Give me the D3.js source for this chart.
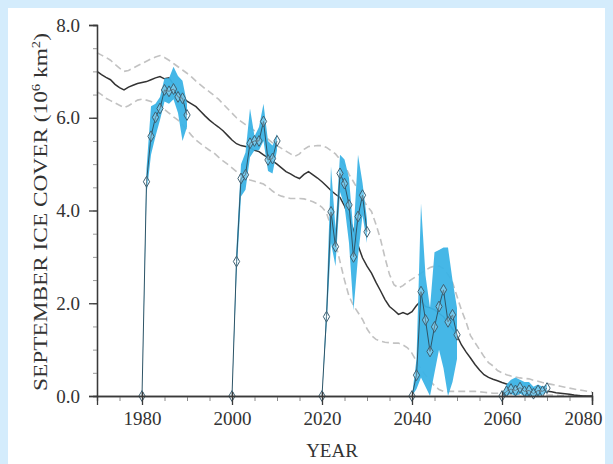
<!DOCTYPE html>
<html>
<head>
<meta charset="utf-8">
<script src="https://cdn.jsdelivr.net/npm/d3@7"></script>
<style>
  html, body { margin: 0; padding: 0; background: #d4ecfc; }
  svg { display: block; }
</style>
</head>
<body>
<svg id="chart" width="613" height="464"></svg>
<script>
// ---------- DATA ----------
const startYear = 1970;
const endYear = 2080;
const years = d3.range(startYear, endYear + 1);

const meanCover = [
  7.00, 6.93, 6.87, 6.82, 6.72, 6.65, 6.60, 6.66, 6.70, 6.74,
  6.76, 6.78, 6.82, 6.86, 6.89, 6.84, 6.86, 6.72, 6.56, 6.45,
  6.36, 6.30, 6.24, 6.14, 6.04, 5.95, 5.87, 5.80, 5.72, 5.62,
  5.52, 5.44, 5.40, 5.38, 5.35, 5.30, 5.27, 5.20, 5.14, 5.07,
  5.00, 4.92, 4.84, 4.79, 4.73, 4.69, 4.78, 4.84, 4.77, 4.70,
  4.62, 4.53, 4.43, 4.35, 4.28, 4.10, 3.85, 3.58, 3.25, 2.98,
  2.80, 2.65, 2.45, 2.27, 2.08, 1.93, 1.85, 1.76, 1.80, 1.76,
  1.82, 1.95, 2.05, 1.93, 1.90, 1.86, 1.78, 1.71, 1.58, 1.45,
  1.30, 1.10, 0.95, 0.82, 0.68, 0.56, 0.46, 0.40, 0.36, 0.33,
  0.29, 0.26, 0.23, 0.20, 0.18, 0.15, 0.13, 0.12, 0.11, 0.11,
  0.10, 0.09, 0.07, 0.06, 0.05, 0.04, 0.02, 0.01, 0.00, 0.00,
  0.00
];

const upperCover = [
  7.40, 7.35, 7.30, 7.24, 7.15, 7.07, 7.00, 7.02, 7.07, 7.12,
  7.17, 7.22, 7.27, 7.31, 7.34, 7.30, 7.24, 7.17, 7.10, 7.03,
  6.96, 6.88, 6.79, 6.71, 6.63, 6.56, 6.48, 6.40, 6.30, 6.20,
  6.10, 6.00, 5.92, 5.85, 5.78, 5.72, 5.67, 5.62, 5.54, 5.46,
  5.40, 5.34, 5.28, 5.22, 5.17, 5.22, 5.32, 5.38, 5.39, 5.40,
  5.40, 5.36, 5.29, 5.22, 5.10, 4.98, 4.78, 4.62, 4.45, 4.25,
  4.10, 3.98, 3.70, 3.38, 2.98, 2.62, 2.40, 2.33, 2.38, 2.46,
  2.52, 2.58, 2.65, 2.71, 2.77, 2.80, 2.80, 2.75, 2.62, 2.45,
  2.15, 1.85, 1.60, 1.30, 1.15, 1.00, 0.85, 0.72, 0.65, 0.55,
  0.50, 0.46, 0.43, 0.41, 0.39, 0.38, 0.37, 0.34, 0.32, 0.29,
  0.27, 0.25, 0.23, 0.21, 0.19, 0.17, 0.15, 0.13, 0.12, 0.10,
  0.09
];

const lowerCover = [
  6.56, 6.50, 6.42, 6.37, 6.32, 6.27, 6.22, 6.26, 6.32, 6.38,
  6.40, 6.38, 6.35, 6.30, 6.25, 6.18, 6.10, 6.02, 5.95, 5.85,
  5.74, 5.62, 5.52, 5.44, 5.37, 5.30, 5.24, 5.15, 5.07, 5.00,
  4.92, 4.84, 4.76, 4.70, 4.66, 4.63, 4.60, 4.57, 4.50, 4.42,
  4.35, 4.31, 4.28, 4.26, 4.26, 4.26, 4.25, 4.22, 4.19, 4.14,
  4.07, 3.95, 3.65, 3.30, 2.90, 2.50, 2.15, 1.95, 1.80, 1.65,
  1.45, 1.30, 1.22, 1.18, 1.16, 1.15, 1.14, 1.14, 1.10, 1.04,
  0.92, 0.75, 0.58, 0.45, 0.33, 0.22, 0.14, 0.10, 0.10, 0.10,
  0.10, 0.10, 0.10, 0.10, 0.10, 0.09, 0.08, 0.07, 0.06, 0.06,
  0.05, 0.05, 0.04, 0.04, 0.04, 0.03, 0.03, 0.03, 0.02, 0.02,
  0.02, 0.02, 0.02, 0.01, 0.01, 0.01, 0.01, 0.01, 0.00, 0.00,
  0.00
];

// Model runs: each starts at its start year from 0, then 10 yearly values
const runStarts = [1980, 2000, 2020, 2040, 2060];
const runValues = [
  [0, 4.62, 5.60, 6.01, 6.20, 6.60, 6.57, 6.62, 6.45, 6.42, 6.06],
  [0, 2.90, 4.69, 4.77, 5.45, 5.50, 5.50, 5.92, 5.09, 5.12, 5.50],
  [0, 1.71, 3.97, 3.22, 4.80, 4.58, 4.12, 3.00, 3.87, 4.33, 3.54],
  [0, 0.45, 2.25, 1.64, 0.96, 1.49, 1.93, 2.29, 1.60, 1.75, 1.32],
  [0, 0.10, 0.15, 0.12, 0.18, 0.10, 0.12, 0.05, 0.12, 0.10, 0.17]
];
const runLow = [
  [0, 4.35, 5.20, 5.60, 5.95, 6.35, 6.30, 6.40, 6.10, 5.50, 5.80],
  [0, 2.60, 4.30, 4.45, 5.15, 5.30, 5.30, 5.50, 4.85, 4.80, 5.30],
  [0, 1.50, 3.30, 2.80, 4.40, 4.10, 3.30, 1.85, 3.00, 3.90, 3.30],
  [0, 0.15, 0.40, 0.20, 0.00, 0.50, 1.00, 0.60, 0.00, 0.30, 0.80],
  [0, 0.00, 0.05, 0.00, 0.05, 0.00, 0.00, 0.00, 0.00, 0.02, 0.10]
];
const runHigh = [
  [0, 4.90, 6.25, 6.30, 6.45, 6.85, 6.85, 7.10, 6.90, 6.80, 6.30],
  [0, 3.20, 5.00, 5.25, 6.20, 5.60, 5.80, 6.30, 5.50, 5.40, 5.65],
  [0, 2.00, 4.95, 3.60, 5.20, 5.10, 4.70, 3.50, 5.20, 4.60, 3.80],
  [0, 0.80, 4.15, 2.60, 1.90, 3.10, 3.15, 3.20, 3.20, 2.50, 1.90],
  [0, 0.25, 0.35, 0.40, 0.35, 0.30, 0.30, 0.20, 0.25, 0.20, 0.25]
];

const yTickValues = [0, 2, 4, 6, 8];
const xTickValues = [1980, 2000, 2020, 2040, 2060, 2080];

// ---------- DRAW ----------
const svg = d3.select("#chart");

svg.append("rect").attr("x", 8).attr("y", 8).attr("width", 597).attr("height", 456)
  .attr("fill", "#ffffff");

const x = d3.scaleLinear().domain([1970, 2080]).range([97, 592]);
const y = d3.scaleLinear().domain([0, 8]).range([396, 25]);

const font = "'Liberation Serif', 'DejaVu Serif', serif";
const axisColor = "#3a3a3a";

const lineGen = d3.line().x(d => x(d[0])).y(d => y(d[1]));
const zipYears = arr => years.map((yr, i) => [yr, arr[i]]);

// envelope dashed lines
[upperCover, lowerCover].forEach(arr => {
  svg.append("path").datum(zipYears(arr))
    .attr("d", lineGen).attr("fill", "none")
    .attr("stroke", "#c2c2c2").attr("stroke-width", 1.6).attr("stroke-dasharray", "7,4");
});

// mean line
svg.append("path").datum(zipYears(meanCover))
  .attr("d", lineGen).attr("fill", "none")
  .attr("stroke", "#333333").attr("stroke-width", 1.5);

// runs
const areaGen = d3.area().x(d => x(d.yr)).y0(d => y(d.lo)).y1(d => y(d.hi));
runStarts.forEach((s, k) => {
  const pts = runValues[k].map((v, i) => ({ yr: s + i, v: v, lo: runLow[k][i], hi: runHigh[k][i] }));
  svg.append("path").datum(pts).attr("d", areaGen)
    .attr("fill", "#3bb3e6").attr("fill-opacity", 0.95);
  svg.append("path").datum(pts.map(p => [p.yr, p.v])).attr("d", lineGen)
    .attr("fill", "none").attr("stroke", "#2f5466").attr("stroke-width", 1);
  svg.selectAll(null).data(pts).enter().append("path")
    .attr("transform", p => `translate(${x(p.yr)},${y(p.v)})`)
    .attr("d", d3.symbol(d3.symbolDiamond, 34))
    .attr("fill", "rgba(255,255,255,0.25)")
    .attr("stroke", "#3e6173").attr("stroke-width", 1);
});

// y axis
const yAxisG = svg.append("g").attr("transform", `translate(${x(1970)},0)`);
yAxisG.call(d3.axisLeft(y).tickValues(d3.range(0, 8.01, 0.5)).tickSize(4).tickFormat(""));
yAxisG.call(g => g.selectAll(".tick line").attr("stroke", "#9a9a9a"));
const yMaj = svg.append("g").attr("transform", `translate(${x(1970)},0)`);
yMaj.call(d3.axisLeft(y).tickValues(yTickValues).tickSize(8).tickPadding(9).tickFormat(d3.format(".1f")));
[yAxisG, yMaj].forEach(g => {
  g.select(".domain").attr("stroke", axisColor).attr("stroke-width", 1.3);
});
yMaj.selectAll(".tick line").attr("stroke", axisColor).attr("stroke-width", 1.3);
yMaj.selectAll(".tick text").attr("font-family", font).attr("font-size", 19).attr("fill", "#333");

// x axis
const xMin = svg.append("g").attr("transform", `translate(0,${y(0)})`);
xMin.call(d3.axisBottom(x).tickValues(d3.range(1970, 2081, 5)).tickSize(5).tickFormat(""));
xMin.selectAll(".tick line").attr("stroke", "#8a8a8a");
const xMaj = svg.append("g").attr("transform", `translate(0,${y(0)})`);
xMaj.call(d3.axisBottom(x).tickValues(xTickValues).tickSize(9).tickPadding(7).tickFormat(d3.format("d")));
[xMin, xMaj].forEach(g => g.select(".domain").attr("stroke", axisColor).attr("stroke-width", 1.3));
xMaj.selectAll(".tick line").attr("stroke", axisColor).attr("stroke-width", 1.3).attr("y1", -4);
xMaj.selectAll(".tick text").attr("font-family", font).attr("font-size", 19).attr("fill", "#333")
  .attr("dx", d => d === 2080 ? -9 : 0);

// axis titles
svg.append("text").attr("x", 332).attr("y", 457).attr("text-anchor", "middle")
  .attr("font-family", font).attr("font-size", 19).attr("fill", "#333").text("YEAR");

const yt = svg.append("text")
  .attr("transform", `translate(47,212) rotate(-90)`)
  .attr("text-anchor", "middle")
  .attr("font-family", font).attr("font-size", 19).attr("fill", "#333")
  .attr("textLength", 358).attr("lengthAdjust", "spacingAndGlyphs");
yt.append("tspan").text("SEPTEMBER ICE COVER (10");
yt.append("tspan").attr("baseline-shift", "super").attr("font-size", 12).text("6");
yt.append("tspan").text(" km");
yt.append("tspan").attr("baseline-shift", "super").attr("font-size", 12).text("2");
yt.append("tspan").text(")");
</script>
</body>
</html>
